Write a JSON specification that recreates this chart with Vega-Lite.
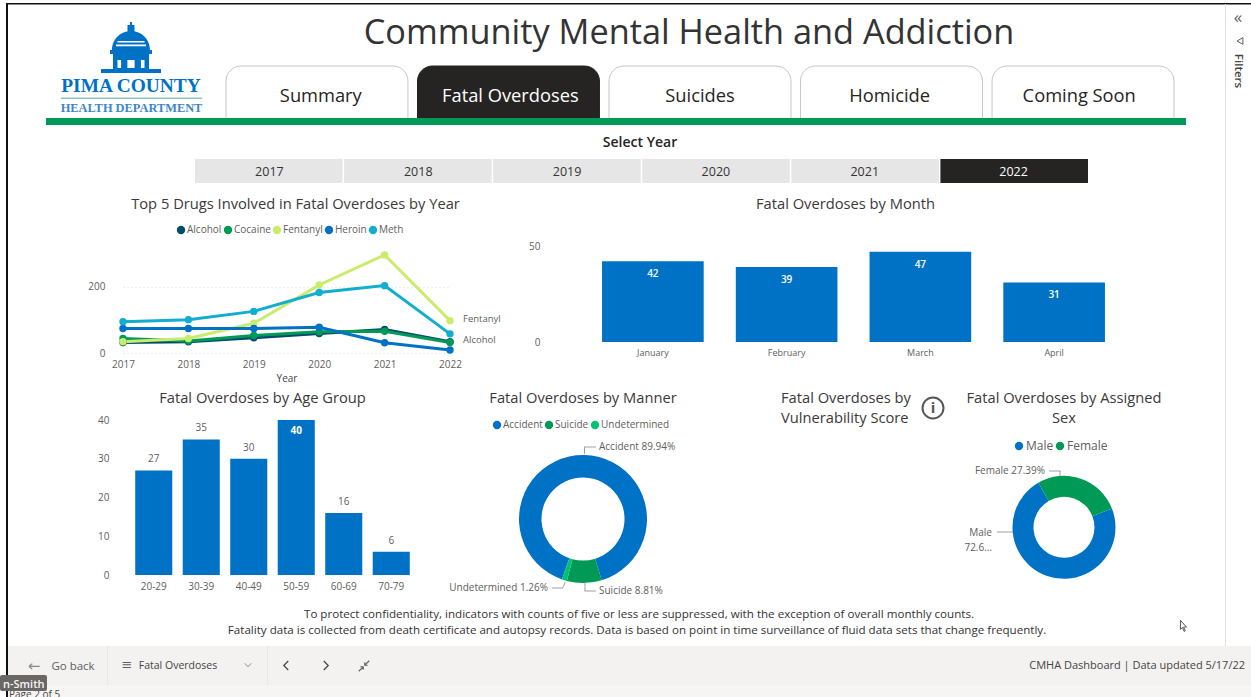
{
"$schema":"https://vega.github.io/schema/vega-lite/v6.json",
"background":"white","padding":0,"autosize":{"type":"pad"},
"spacing":-14,"center":false,
"resolve":{"scale":{"color":"independent"},"legend":{"color":"independent"}},
"config":{"view":{"stroke":null},"font":"Open Sans","text":{"font":"Open Sans"},
"title":{"font":"Open Sans","fontSize":14.7,"fontWeight":"normal","color":"#3b3a39","limit":0},
"axis":{"labelFont":"Open Sans","titleFont":"Open Sans","labelColor":"#605e5c","labelFontSize":10,"domain":false,"ticks":false,"grid":false,"title":null},
"legend":{"labelFont":"Open Sans","labelColor":"#605e5c","labelFontSize":10,"title":null,"orient":"none","direction":"horizontal","symbolType":"circle","symbolSize":70,"symbolStrokeWidth":0,"padding":0,"labelOffset":1,"columnPadding":1}},
"datasets":{
"one":[{"c":1}],
"tabs":[{"tab":"Summary","state":"off","row":"t"},{"tab":"Fatal Overdoses","state":"on","row":"t"},{"tab":"Suicides","state":"off","row":"t"},{"tab":"Homicide","state":"off","row":"t"},{"tab":"Coming Soon","state":"off","row":"t"}],
"years":[{"yr":"2017","state":"off","row":"y"},{"yr":"2018","state":"off","row":"y"},{"yr":"2019","state":"off","row":"y"},{"yr":"2020","state":"off","row":"y"},{"yr":"2021","state":"off","row":"y"},{"yr":"2022","state":"on","row":"y"}],
"drugs":[
{"year":"2017","drug":"Alcohol","n":32},{"year":"2018","drug":"Alcohol","n":34},{"year":"2019","drug":"Alcohol","n":46},{"year":"2020","drug":"Alcohol","n":59},{"year":"2021","drug":"Alcohol","n":71},{"year":"2022","drug":"Alcohol","n":34},
{"year":"2017","drug":"Cocaine","n":44},{"year":"2018","drug":"Cocaine","n":36},{"year":"2019","drug":"Cocaine","n":53},{"year":"2020","drug":"Cocaine","n":64},{"year":"2021","drug":"Cocaine","n":66},{"year":"2022","drug":"Cocaine","n":32},
{"year":"2017","drug":"Fentanyl","n":34},{"year":"2018","drug":"Fentanyl","n":44},{"year":"2019","drug":"Fentanyl","n":90},{"year":"2020","drug":"Fentanyl","n":206},{"year":"2021","drug":"Fentanyl","n":297},{"year":"2022","drug":"Fentanyl","n":98},
{"year":"2017","drug":"Heroin","n":74},{"year":"2018","drug":"Heroin","n":74},{"year":"2019","drug":"Heroin","n":74},{"year":"2020","drug":"Heroin","n":78},{"year":"2021","drug":"Heroin","n":31},{"year":"2022","drug":"Heroin","n":9},
{"year":"2017","drug":"Meth","n":95},{"year":"2018","drug":"Meth","n":101},{"year":"2019","drug":"Meth","n":126},{"year":"2020","drug":"Meth","n":183},{"year":"2021","drug":"Meth","n":204},{"year":"2022","drug":"Meth","n":58}],
"months":[{"month":"January","n":42},{"month":"February","n":39},{"month":"March","n":47},{"month":"April","n":31}],
"ages":[{"age":"20-29","n":27},{"age":"30-39","n":35},{"age":"40-49","n":30},{"age":"50-59","n":40},{"age":"60-69","n":16},{"age":"70-79","n":6}],
"manner":[{"manner":"Accident","pct":89.94,"ord":1,"label":"Accident 89.94%"},{"manner":"Suicide","pct":8.81,"ord":2,"label":"Suicide 8.81%"},{"manner":"Undetermined","pct":1.26,"ord":3,"label":"Undetermined 1.26%"}],
"sex":[{"sex":"Male","pct":72.61,"ord":1,"label":"Male\n72.6…"},{"sex":"Female","pct":27.39,"ord":2,"label":"Female 27.39%"}]
},
"vconcat":[
{"width":1251,"height":211,"data":{"name":"one"},"resolve":{"scale":{"x":"independent","y":"independent","color":"independent","stroke":"independent"}},
"layer":[
{"data":{"name":"tabs"},"mark":{"type":"rect","cornerRadiusTopLeft":15,"cornerRadiusTopRight":15,"strokeWidth":1},
 "encoding":{"x":{"field":"tab","type":"nominal","sort":null,"axis":null,"scale":{"range":[226,1174],"paddingInner":0.05,"paddingOuter":0}},"y":{"field":"row","type":"nominal","axis":null,"scale":{"range":[66,119]}},
 "color":{"field":"state","type":"nominal","legend":null,"scale":{"domain":["off","on"],"range":["#ffffff","#252423"]}},
 "stroke":{"field":"state","type":"nominal","legend":null,"scale":{"domain":["off","on"],"range":["#c8c6c4","#252423"]}}}},
{"data":{"name":"tabs"},"mark":{"type":"text","fontSize":18.3,"baseline":"middle"},
 "encoding":{"x":{"field":"tab","type":"nominal","sort":null,"axis":null,"scale":{"range":[226,1174],"paddingInner":0.05,"paddingOuter":0}},"y":{"field":"row","type":"nominal","axis":null,"scale":{"range":[73,121]}},"text":{"field":"tab"},
 "color":{"field":"state","type":"nominal","legend":null,"scale":{"domain":["off","on"],"range":["#252423","#ffffff"]}}}},
{"data":{"name":"years"},"mark":{"type":"rect"},
 "encoding":{"x":{"field":"yr","type":"nominal","sort":null,"axis":null,"scale":{"range":[195,1088],"paddingInner":0.01,"paddingOuter":0}},"y":{"field":"row","type":"nominal","axis":null,"scale":{"range":[159,183]}},
 "color":{"field":"state","type":"nominal","legend":null,"scale":{"domain":["off","on"],"range":["#e6e6e6","#252423"]}}}},
{"data":{"name":"years"},"mark":{"type":"text","fontSize":12.5,"baseline":"middle"},
 "encoding":{"x":{"field":"yr","type":"nominal","sort":null,"axis":null,"scale":{"range":[195,1088],"paddingInner":0.01,"paddingOuter":0}},"y":{"field":"row","type":"nominal","axis":null,"scale":{"range":[159,184]}},"text":{"field":"yr"},
 "color":{"field":"state","type":"nominal","legend":null,"scale":{"domain":["off","on"],"range":["#333333","#ffffff"]}}}},
{"mark":{"type":"rect","x":46,"x2":1186,"y":118,"y2":125,"fill":"#009a56"},"encoding":{}},
{"mark":{"type":"rect","x":6,"x2":8,"y":3,"y2":211,"fill":"#111111"},"encoding":{}},
{"mark":{"type":"rect","x":6,"x2":1251,"y":3,"y2":4.5,"fill":"#111111"},"encoding":{}},
{"mark":{"type":"rect","x":1225,"x2":1226,"y":4,"y2":211,"fill":"#e1dfdd"},"encoding":{}},
{"mark":{"type":"text","x":689,"y":34,"text":"Community Mental Health and Addiction","fontSize":34.3,"color":"#333333","baseline":"middle"},"encoding":{}},
{"mark":{"type":"text","x":640,"y":143,"text":"Select Year","fontSize":14,"fontWeight":600,"color":"#252423","baseline":"middle"},"encoding":{}},
{"mark":{"type":"point","x":131,"y":47.5,"size":3600,"filled":true,"opacity":1,"fill":"#0072c6","strokeWidth":0,"shape":"M -0.033 -0.85 H 0.033 V -0.75 H 0.117 V -0.52 H -0.117 V -0.75 H -0.033 Z M -0.633 0.083 C -0.633 -0.317 -0.3 -0.55 0 -0.55 C 0.3 -0.55 0.633 -0.317 0.633 0.083 Z M -0.7 0.083 H 0.7 V 0.217 H -0.7 Z M -0.6 0.217 H 0.6 V 0.75 H -0.6 Z M -1 0.72 H 1 V 0.85 H -1 Z"},"encoding":{}},
{"mark":{"type":"point","x":131,"y":47.5,"size":3600,"filled":true,"opacity":1,"fill":"#ffffff","strokeWidth":0,"shape":"M -0.45 0.417 H -0.33 V 0.683 H -0.45 Z M -0.12 0.417 H 0.12 V 0.683 H -0.12 Z M 0.33 0.417 H 0.45 V 0.683 H 0.33 Z M -0.45 -0.22 H 0.45 V -0.17 H -0.45 Z M -0.5 -0.1 H 0.5 V -0.04 H -0.5 Z"},"encoding":{}},
{"mark":{"type":"text","x":131,"y":86,"text":"PIMA COUNTY","font":"Liberation Serif","fontWeight":"bold","fontSize":19.4,"color":"#0072c6","baseline":"middle"},"encoding":{}},
{"mark":{"type":"rect","x":61,"x2":202,"y":97.5,"y2":99,"fill":"#8fc7b0"},"encoding":{}},
{"mark":{"type":"text","x":131.5,"y":107.5,"text":"HEALTH DEPARTMENT","font":"Liberation Serif","fontWeight":"bold","fontSize":12.4,"color":"#3d86c6","baseline":"middle"},"encoding":{}},
{"mark":{"type":"text","x":1238,"y":18,"text":"«","fontSize":17,"color":"#605e5c","baseline":"middle"},"encoding":{}},
{"mark":{"type":"point","x":1240,"y":41,"size":45,"shape":"triangle-left","color":"#605e5c","strokeWidth":1,"opacity":1},"encoding":{}},
{"mark":{"type":"text","x":1238,"y":71,"text":"Filters","fontSize":11.5,"fontWeight":600,"angle":90,"color":"#444444","baseline":"middle"},"encoding":{}}
]},
{"hconcat":[
{"width":123,"height":123,"data":{"name":"one"},"layer":[
 {"mark":{"type":"rect","x":6,"x2":8,"y":-48,"y2":137,"fill":"#111111"},"encoding":{}},
 {"mark":{"type":"rect","x":1225,"x2":1226,"y":-48,"y2":137,"fill":"#e1dfdd"},"encoding":{}}]},
{"width":327,"height":107,"data":{"name":"drugs"},
 "title":{"text":"Top 5 Drugs Involved in Fatal Overdoses by Year","offset":13,"dx":9},
 "encoding":{"x":{"field":"year","type":"nominal","axis":{"labelAngle":0,"labelPadding":6,"title":"Year","titleFontSize":10,"titleFontWeight":"normal","titleColor":"#444444","titlePadding":4},"scale":{"type":"point","padding":0}},
  "y":{"field":"n","type":"quantitative","scale":{"domain":[0,324],"nice":false},"axis":{"values":[0,200],"grid":true,"gridDash":[1,3],"gridColor":"#dddddd","labelPadding":18}}},
 "layer":[
 {"mark":{"type":"line","strokeWidth":3},"encoding":{"stroke":{"field":"drug","type":"nominal","legend":null,"scale":{"domain":["Alcohol","Cocaine","Fentanyl","Heroin","Meth"],"range":["#004b6e","#009a56","#c9ec6c","#0072c6","#12adcf"]}}}},
 {"mark":{"type":"point","filled":true,"size":55,"opacity":1},"encoding":{"color":{"field":"drug","type":"nominal","scale":{"domain":["Alcohol","Cocaine","Fentanyl","Heroin","Meth"],"range":["#004b6e","#009a56","#c9ec6c","#0072c6","#12adcf"]},"legend":{"legendX":53,"legendY":-21}}}},
 {"transform":[{"filter":"datum.year=='2022' && (datum.drug=='Fentanyl' || datum.drug=='Alcohol')"}],"mark":{"type":"text","align":"left","dx":13,"dy":-2,"fontSize":9.5,"color":"#605e5c"},"encoding":{"text":{"field":"drug"}}}
 ]},
{"width":136,"height":10,"data":{"values":[]},"mark":"rect","encoding":{}},
{"width":535,"height":96,"data":{"name":"months"},
 "title":{"text":"Fatal Overdoses by Month","offset":29,"dx":-8},
 "encoding":{"x":{"field":"month","type":"nominal","sort":null,"axis":{"labelAngle":0,"labelFontSize":9,"labelPadding":6},"scale":{"paddingInner":0.24,"paddingOuter":0.12}},
 "y":{"field":"n","type":"quantitative","scale":{"domain":[0,50],"nice":false},"axis":{"values":[0,50],"labelPadding":46}}},
 "layer":[{"mark":{"type":"bar","color":"#0072c6"}},
 {"mark":{"type":"text","baseline":"middle","dy":13,"color":"#ffffff","fontSize":10,"fontWeight":600},"encoding":{"text":{"field":"n"}}}]}
],"spacing":0,"bounds":"flush","resolve":{"scale":{"color":"independent"},"legend":{"color":"independent"}}},
{"hconcat":[
{"width":130,"height":181,"data":{"name":"one"},"layer":[
 {"mark":{"type":"rect","x":6,"x2":8,"y":-51,"y2":181,"fill":"#111111"},"encoding":{}},
 {"mark":{"type":"rect","x":1225,"x2":1226,"y":-51,"y2":181,"fill":"#e1dfdd"},"encoding":{}}]},
{"width":285,"height":155,"data":{"name":"ages"},
 "title":{"text":"Fatal Overdoses by Age Group","offset":9,"dx":-10},
 "encoding":{"x":{"field":"age","type":"nominal","axis":{"labelAngle":0,"labelPadding":6},"scale":{"paddingInner":0.22,"paddingOuter":0.11}},
 "y":{"field":"n","type":"quantitative","scale":{"domain":[0,40],"nice":false},"axis":{"values":[0,10,20,30,40],"labelPadding":21}}},
 "layer":[{"mark":{"type":"bar","color":"#0072c6"}},
 {"transform":[{"filter":"datum.n<40"}],"mark":{"type":"text","baseline":"middle","dy":-11,"color":"#605e5c","fontSize":10},"encoding":{"text":{"field":"n"}}},
 {"transform":[{"filter":"datum.n>=40"}],"mark":{"type":"text","baseline":"middle","dy":11,"color":"#ffffff","fontSize":10,"fontWeight":700},"encoding":{"text":{"field":"n"}}}]},
{"width":336,"height":155,"data":{"name":"manner"},
 "title":{"text":"Fatal Overdoses by Manner","offset":14},
 "layer":[
 {"mark":{"type":"arc","outerRadius":64,"innerRadius":41.5,"yOffset":21.5},
  "encoding":{"theta":{"field":"pct","type":"quantitative","stack":true,"scale":{"range":[3.477,9.760]}},"order":{"field":"ord"},
  "color":{"field":"manner","type":"nominal","scale":{"domain":["Accident","Suicide","Undetermined"],"range":["#0072c6","#009a56","#00c26f"]},"legend":{"legendX":77,"legendY":0}}}},
 {"transform":[{"filter":"datum.manner=='Accident'"}],"mark":{"type":"text","x":184,"y":27,"align":"left","baseline":"middle","fontSize":10,"color":"#605e5c"},"encoding":{"text":{"field":"label"}}},
 {"transform":[{"filter":"datum.manner=='Suicide'"}],"mark":{"type":"text","x":184,"y":171,"align":"left","baseline":"middle","fontSize":10,"color":"#605e5c"},"encoding":{"text":{"field":"label"}}},
 {"transform":[{"filter":"datum.manner=='Undetermined'"}],"mark":{"type":"text","x":133,"y":168,"align":"right","baseline":"middle","fontSize":10,"color":"#605e5c"},"encoding":{"text":{"field":"label"}}},
 {"data":{"name":"one"},"mark":{"type":"rect","x":169,"x2":170,"y":27,"y2":34,"fill":"#a19f9d"},"encoding":{}},
 {"data":{"name":"one"},"mark":{"type":"rect","x":169,"x2":181,"y":26.5,"y2":27.5,"fill":"#a19f9d"},"encoding":{}},
 {"data":{"name":"one"},"mark":{"type":"rect","x":169.5,"x2":170.5,"y":163,"y2":171,"fill":"#a19f9d"},"encoding":{}},
 {"data":{"name":"one"},"mark":{"type":"rect","x":169.5,"x2":181,"y":170.5,"y2":171.5,"fill":"#a19f9d"},"encoding":{}},
 {"data":{"name":"one"},"mark":{"type":"rect","x":137,"x2":148,"y":167.5,"y2":168.5,"fill":"#a19f9d"},"encoding":{}},
 {"data":{"name":"one"},"mark":{"type":"point","x":149,"y":165,"size":30,"strokeWidth":1,"color":"#a19f9d","opacity":1,"shape":"M -0.4 1 L 0.4 -1"},"encoding":{}}
 ]},
{"width":209,"height":155,"data":{"values":[{"sym":"i"}]},
 "title":{"text":["Fatal Overdoses by","Vulnerability Score"],"anchor":"start","dx":30,"offset":-32,"lineHeight":20},
 "layer":[
 {"mark":{"type":"point","x":182,"y":-12,"size":440,"stroke":"#555555","strokeWidth":2,"filled":false,"opacity":1},"encoding":{}},
 {"mark":{"type":"text","x":182,"y":-12,"baseline":"middle","fontSize":15,"fontWeight":700,"color":"#555555"},"encoding":{"text":{"field":"sym"}}}
 ]},
{"width":208,"height":155,"data":{"name":"sex"},
 "title":{"text":["Fatal Overdoses by Assigned","Sex"],"offset":-6,"lineHeight":20},
 "layer":[
 {"mark":{"type":"arc","outerRadius":51.5,"innerRadius":30.5,"yOffset":29.8},
  "encoding":{"theta":{"field":"pct","type":"quantitative","stack":true,"scale":{"range":[1.197,7.480]}},"order":{"field":"ord"},
  "color":{"field":"sex","type":"nominal","sort":null,"scale":{"domain":["Male","Female"],"range":["#0072c6","#009a56"]},"legend":{"legendX":53,"legendY":20,"labelFontSize":12,"columnPadding":-4}}}},
 {"transform":[{"filter":"datum.sex=='Female'"}],"mark":{"type":"text","x":85,"y":51,"align":"right","baseline":"middle","fontSize":10,"color":"#605e5c"},"encoding":{"text":{"field":"label"}}},
 {"transform":[{"filter":"datum.sex=='Male'"}],"mark":{"type":"text","x":32,"y":113,"align":"right","baseline":"middle","fontSize":10,"lineBreak":"\n","lineHeight":15,"color":"#605e5c"},"encoding":{"text":{"field":"label"}}},
 {"data":{"name":"one"},"mark":{"type":"rect","x":89,"x2":100.5,"y":50.5,"y2":51.5,"fill":"#a19f9d"},"encoding":{}},
 {"data":{"name":"one"},"mark":{"type":"rect","x":99.5,"x2":100.5,"y":51,"y2":56,"fill":"#a19f9d"},"encoding":{}},
 {"data":{"name":"one"},"mark":{"type":"rect","x":37,"x2":53,"y":111.5,"y2":112.5,"fill":"#a19f9d"},"encoding":{}}
 ]}
],"spacing":0,"bounds":"flush","resolve":{"scale":{"color":"independent"},"legend":{"color":"independent"}}},
{"width":1251,"height":97,"data":{"name":"one"},
 "layer":[
 {"mark":{"type":"rect","x":6,"x2":8,"y":0,"y2":97,"fill":"#111111"},"encoding":{}},
 {"mark":{"type":"rect","x":1225,"x2":1226,"y":0,"y2":45,"fill":"#e1dfdd"},"encoding":{}},
 {"mark":{"type":"rect","x":8,"x2":1251,"y":45,"y2":84,"fill":"#f3f2f1"},"encoding":{}},
 {"mark":{"type":"rect","x":8,"x2":1251,"y":84,"y2":97,"fill":"#f6f5f4"},"encoding":{}},
 {"mark":{"type":"text","x":639,"y":14,"text":"To protect confidentiality, indicators with counts of five or less are suppressed, with the exception of overall monthly counts.","fontSize":11.6,"color":"#333333","baseline":"middle"},"encoding":{}},
 {"mark":{"type":"text","x":637,"y":30,"text":"Fatality data is collected from death certificate and autopsy records. Data is based on point in time surveillance of fluid data sets that change frequently.","fontSize":11.6,"color":"#333333","baseline":"middle"},"encoding":{}},
 {"mark":{"type":"text","x":34,"y":65,"text":"←","font":"DejaVu Sans","fontSize":15,"color":"#8a8886","baseline":"middle"},"encoding":{}},
 {"mark":{"type":"text","x":73,"y":66,"text":"Go back","fontSize":11.5,"color":"#605e5c","baseline":"middle"},"encoding":{}},
 {"mark":{"type":"rect","x":107,"x2":108,"y":45,"y2":84,"fill":"#e8e6e4"},"encoding":{}},
 {"mark":{"type":"text","x":127,"y":64,"text":"≡","font":"DejaVu Sans","fontSize":13,"color":"#605e5c","baseline":"middle"},"encoding":{}},
 {"mark":{"type":"text","x":178,"y":65,"text":"Fatal Overdoses","fontSize":10.5,"color":"#444444","baseline":"middle"},"encoding":{}},
 {"mark":{"type":"point","x":248,"y":64,"size":45,"strokeWidth":1,"color":"#8a8886","opacity":1,"shape":"M -1 -0.5 L 0 0.5 L 1 -0.5"},"encoding":{}},
 {"mark":{"type":"rect","x":267,"x2":268,"y":45,"y2":84,"fill":"#e8e6e4"},"encoding":{}},
 {"mark":{"type":"point","x":286,"y":64.5,"size":80,"strokeWidth":1.2,"color":"#444444","opacity":1,"shape":"M 0.5 -1 L -0.5 0 L 0.5 1"},"encoding":{}},
 {"mark":{"type":"point","x":326,"y":64.5,"size":80,"strokeWidth":1.2,"color":"#444444","opacity":1,"shape":"M -0.5 -1 L 0.5 0 L -0.5 1"},"encoding":{}},
 {"mark":{"type":"point","x":364,"y":65,"size":110,"strokeWidth":1.1,"color":"#605e5c","opacity":1,"shape":"M -1 1 L -0.15 0.15 M -0.7 0.15 H -0.15 V 0.7 M 1 -1 L 0.15 -0.15 M 0.7 -0.15 H 0.15 V -0.7"},"encoding":{}},
 {"mark":{"type":"text","x":1245,"y":65,"align":"right","text":"CMHA Dashboard  |  Data updated 5/17/22","fontSize":11,"color":"#444444","baseline":"middle"},"encoding":{}},
 {"mark":{"type":"text","x":9,"y":94,"align":"left","text":"Page 2 of 5","fontSize":10,"color":"#444444","baseline":"middle"},"encoding":{}},
 {"mark":{"type":"rect","x":0,"x2":47,"y":74,"y2":90,"fill":"#6b6764","cornerRadius":2},"encoding":{}},
 {"mark":{"type":"text","x":3,"y":84,"align":"left","text":"n-Smith","fontSize":11,"fontWeight":600,"color":"#f5f5f5","baseline":"middle"},"encoding":{}},
 {"mark":{"type":"point","x":1183,"y":25,"size":130,"strokeWidth":1,"color":"#555555","opacity":1,"shape":"M -0.45 -1 L -0.45 0.6 L -0.1 0.25 L 0.2 0.95 L 0.4 0.85 L 0.1 0.18 L 0.6 0.18 Z"},"encoding":{}}
 ]}
]}
